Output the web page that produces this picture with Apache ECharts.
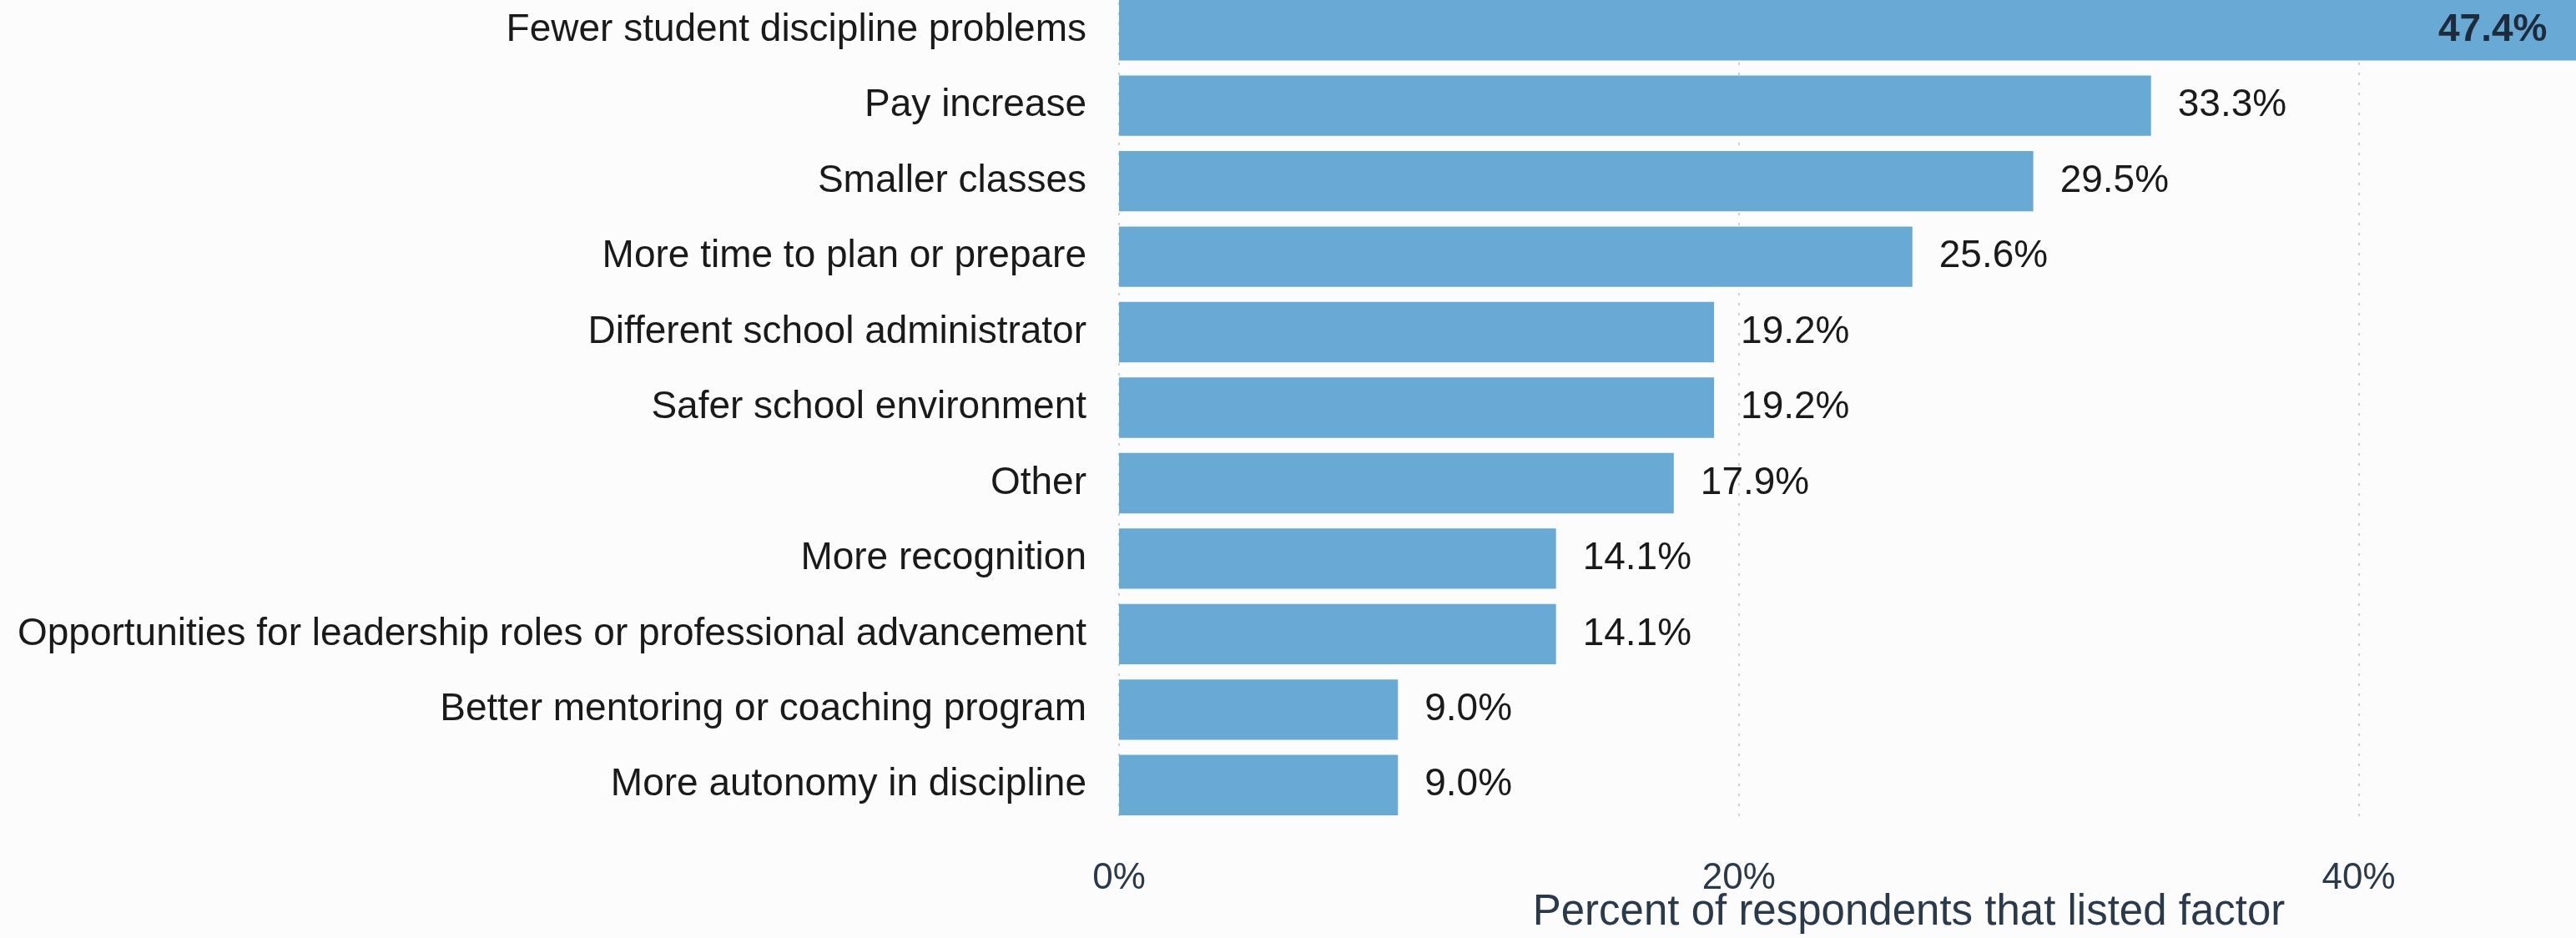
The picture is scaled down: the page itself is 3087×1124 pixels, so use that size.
<!DOCTYPE html>
<html>
<head>
<meta charset="utf-8">
<script src="https://cdn.jsdelivr.net/npm/echarts@6/dist/echarts.min.js"></script>
<style>
html,body{margin:0;padding:0;background:#fcfcfc;overflow:hidden;width:3087px;height:1124px;position:relative;}
#chart{position:absolute;left:0;top:-9px;width:3198px;height:1133px;}
</style>
</head>
<body>
<div id="chart"></div>
<script>
const categories = [
  "Fewer student discipline problems",
  "Pay increase",
  "Smaller classes",
  "More time to plan or prepare",
  "Different school administrator",
  "Safer school environment",
  "Other",
  "More recognition",
  "Opportunities for leadership roles or professional advancement",
  "Better mentoring or coaching program",
  "More autonomy in discipline"
];
const values = [47.4, 33.3, 29.5, 25.6, 19.2, 19.2, 17.9, 14.1, 14.1, 9.0, 9.0];
const xTicks = [0, 20, 40];

const FONT = "Liberation Sans, Arial, sans-serif";
const chart = echarts.init(document.getElementById('chart'));
const data = values.map((v, i) => {
  if (i === 0) {
    return {
      value: v,
      label: {
        position: 'insideRight', distance: 49,
        color: '#1d2b3a', fontWeight: 'bold'
      }
    };
  }
  return v;
});
chart.setOption({
  backgroundColor: '#fcfcfc',
  animation: false,
  grid: { left: 1341, right: 0, top: 0, bottom: 138, outerBoundsMode: 'none', containLabel: false },
  xAxis: {
    type: 'value', min: 0, max: 50, interval: 20,
    axisLine: { show: false }, axisTick: { show: false },
    splitLine: { show: true, lineStyle: { color: '#cfcfcf', type: [3, 9], width: 2 } },
    axisLabel: {
      margin: 45, fontSize: 44, color: '#2b3a4a', fontFamily: FONT,
      formatter: v => xTicks.includes(v) ? v + '%' : ''
    },
    name: 'Percent of respondents that listed factor',
    nameLocation: 'middle', nameGap: 82, nameMoveOverlap: false,
    nameTextStyle: { fontSize: 51, color: '#2b3a4a', fontFamily: FONT, padding: [0, 0, 0, 36] }
  },
  yAxis: {
    type: 'category', data: categories, inverse: true,
    axisLine: { show: false }, axisTick: { show: false },
    axisLabel: { margin: 39, fontSize: 46, color: '#1a1a1a', fontFamily: FONT }
  },
  series: [{
    type: 'bar', data: data, barWidth: '80%', clip: false,
    itemStyle: { color: '#68aad5' },
    label: {
      show: true, position: 'right', distance: 32,
      fontSize: 46, color: '#1a1a1a', fontFamily: FONT,
      formatter: p => p.value.toFixed(1) + '%'
    }
  }]
});
</script>
</body>
</html>
